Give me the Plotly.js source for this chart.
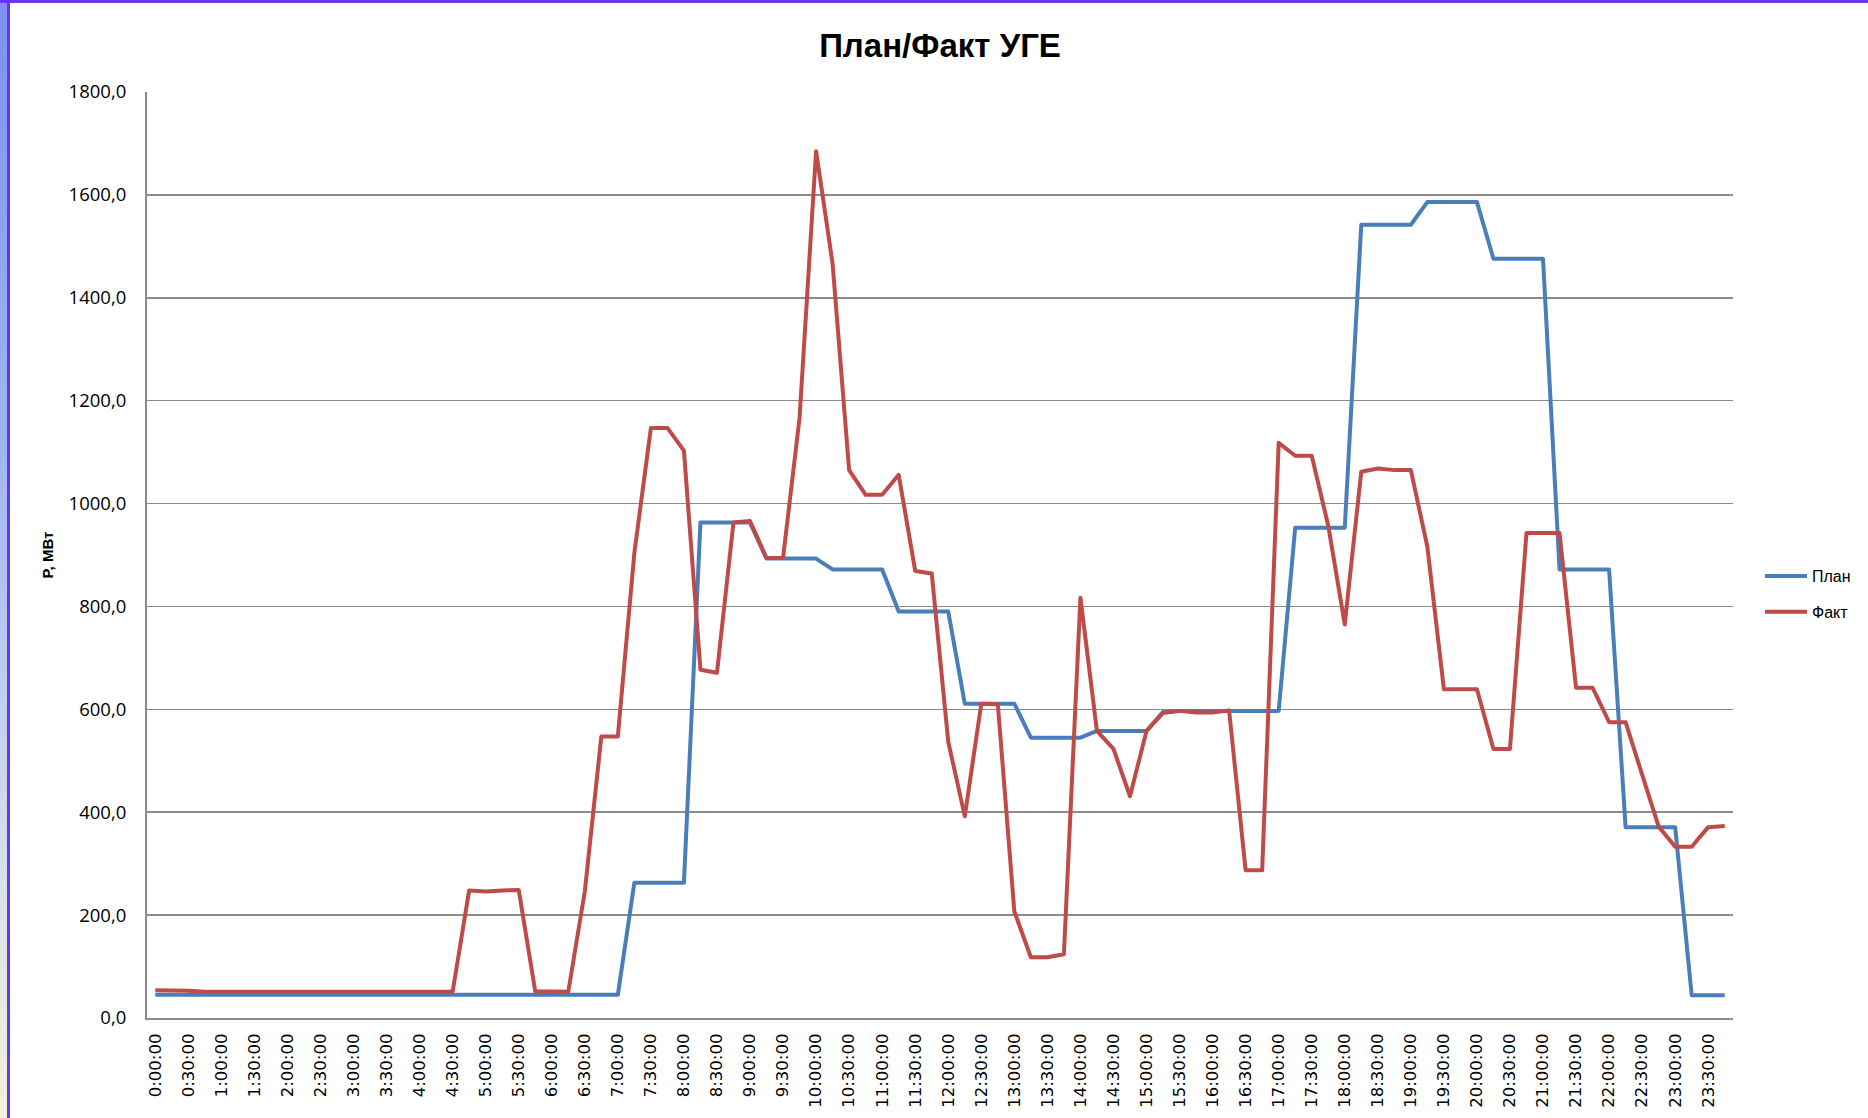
<!DOCTYPE html>
<html>
<head>
<meta charset="utf-8">
<script src="https://cdn.plot.ly/plotly-3.0.1.min.js"></script>
<style>
html,body{margin:0;padding:0;background:#fff;}
#wrap{position:relative;width:1868px;height:1118px;overflow:hidden;background:#fff;}
#chart{position:absolute;left:0;top:0;width:1868px;height:1118px;}
#edgeL{position:absolute;left:0;top:0;width:7px;height:1118px;background:linear-gradient(#7d8ff2,#9fb6f2 40%,#d9e3ea 80%,#f1f2d6);}
#lineL{position:absolute;left:7px;top:0;width:3px;height:1118px;background:#6a35f2;}
#lineT{position:absolute;left:0;top:0;width:1868px;height:3px;background:#6a35f2;}
.js-line{stroke-linejoin:round;}
</style>
</head>
<body>
<div id="wrap">
<div id="chart"></div>
<div id="edgeL"></div>
<div id="lineL"></div>
<div id="lineT"></div>
</div>
<script>
const categories = [
"0:00:00","0:15:00","0:30:00","0:45:00","1:00:00","1:15:00","1:30:00","1:45:00",
"2:00:00","2:15:00","2:30:00","2:45:00","3:00:00","3:15:00","3:30:00","3:45:00",
"4:00:00","4:15:00","4:30:00","4:45:00","5:00:00","5:15:00","5:30:00","5:45:00",
"6:00:00","6:15:00","6:30:00","6:45:00","7:00:00","7:15:00","7:30:00","7:45:00",
"8:00:00","8:15:00","8:30:00","8:45:00","9:00:00","9:15:00","9:30:00","9:45:00",
"10:00:00","10:15:00","10:30:00","10:45:00","11:00:00","11:15:00","11:30:00","11:45:00",
"12:00:00","12:15:00","12:30:00","12:45:00","13:00:00","13:15:00","13:30:00","13:45:00",
"14:00:00","14:15:00","14:30:00","14:45:00","15:00:00","15:15:00","15:30:00","15:45:00",
"16:00:00","16:15:00","16:30:00","16:45:00","17:00:00","17:15:00","17:30:00","17:45:00",
"18:00:00","18:15:00","18:30:00","18:45:00","19:00:00","19:15:00","19:30:00","19:45:00",
"20:00:00","20:15:00","20:30:00","20:45:00","21:00:00","21:15:00","21:30:00","21:45:00",
"22:00:00","22:15:00","22:30:00","22:45:00","23:00:00","23:15:00","23:30:00","23:45:00"
];

const tickLabels = [
"0:00:00","0:30:00","1:00:00","1:30:00","2:00:00","2:30:00","3:00:00","3:30:00",
"4:00:00","4:30:00","5:00:00","5:30:00","6:00:00","6:30:00","7:00:00","7:30:00",
"8:00:00","8:30:00","9:00:00","9:30:00","10:00:00","10:30:00","11:00:00","11:30:00",
"12:00:00","12:30:00","13:00:00","13:30:00","14:00:00","14:30:00","15:00:00","15:30:00",
"16:00:00","16:30:00","17:00:00","17:30:00","18:00:00","18:30:00","19:00:00","19:30:00",
"20:00:00","20:30:00","21:00:00","21:30:00","22:00:00","22:30:00","23:00:00","23:30:00"
];

const planValues = [
45,45,45,45,45,45,45,45,45,45,45,45,45,45,45,45,
45,45,45,45,45,45,45,45,45,45,45,45,45,263,263,263,
263,963,963,963,963,893,893,893,893,872,872,872,872,790,790,790,
790,611,611,611,611,545,545,545,545,558,558,558,558,595,597,597,
597,597,597,597,597,953,953,953,953,1542,1542,1542,1542,1586,1586,1586,
1586,1476,1476,1476,1476,872,872,872,872,371,371,371,371,44,44,44
];

const factValues = [
54,54,53,51,51,51,51,51,51,51,51,51,51,51,51,51,
51,51,51,248,246,248,249,52,51,51,246,547,547,904,1147,1147,
1103,677,671,963,966,894,894,1167,1685,1466,1065,1017,1017,1056,869,864,
537,392,611,610,207,118,118,124,817,558,523,431,558,593,597,594,
594,598,287,287,1118,1093,1093,957,765,1062,1068,1065,1065,916,639,639,
639,523,523,943,943,943,642,642,575,575,473,372,333,333,371,373
];

const seriesNames = ["План", "Факт"];
const seriesColors = ["#4A7EBB", "#BE4B48"];

const traces = [
  {x: categories, y: planValues, name: seriesNames[0], type: "scatter", mode: "lines",
   line: {color: seriesColors[0], width: 4}, legendgroup: "g1"},
  {x: categories, y: factValues, name: seriesNames[1], type: "scatter", mode: "lines",
   line: {color: seriesColors[1], width: 4}, legendgroup: "g2"}
];

const layout = {
  width: 1868, height: 1118,
  margin: {l: 147, r: 135, t: 92, b: 100, pad: 0},
  paper_bgcolor: "#ffffff", plot_bgcolor: "#ffffff",
  separators: ", ",
  title: {
    text: "<b>План/Факт УГЕ</b>",
    font: {family: "Liberation Sans, Arial, sans-serif", size: 33, color: "#000000"},
    x: 0.5, xref: "paper", xanchor: "center",
    y: 1 - 45/1118, yref: "container", yanchor: "middle"
  },
  xaxis: {
    type: "category", range: [-0.5, 95.5],
    tickmode: "array", tickvals: tickLabels, ticktext: tickLabels,
    tickangle: -90,
    tickfont: {family: "DejaVu Sans, sans-serif", size: 16.5, color: "#000000"},
    showgrid: false, zeroline: false, ticks: "",
    showline: true, linecolor: "#8c8c8c", linewidth: 2,
    ticklabelstandoff: 7
  },
  yaxis: {
    range: [0, 1800], tick0: 0, dtick: 200, tickformat: ".1f",
    tickfont: {family: "Open Sans, sans-serif", size: 18.5, color: "#000000"},
    showgrid: true, gridcolor: "#8c8c8c", gridwidth: 1.5,
    zeroline: false, ticks: "",
    showline: true, linecolor: "#8c8c8c", linewidth: 2,
    ticklabelstandoff: 15,
    title: {text: "<b>Р, МВт</b>", font: {family: "Liberation Sans, Arial, sans-serif", size: 15, color: "#000000"}, standoff: 11}
  },
  showlegend: true,
  legend: {
    x: (1760-147)/1586, xanchor: "left",
    y: (1018-594)/926, yanchor: "middle",
    font: {family: "Liberation Sans, Arial, sans-serif", size: 16, color: "#000000"},
    bgcolor: "rgba(0,0,0,0)", borderwidth: 0,
    tracegroupgap: 12, itemwidth: 42
  }
};

Plotly.newPlot("chart", traces, layout, {displayModeBar: false, staticPlot: true});
</script>
</body>
</html>
